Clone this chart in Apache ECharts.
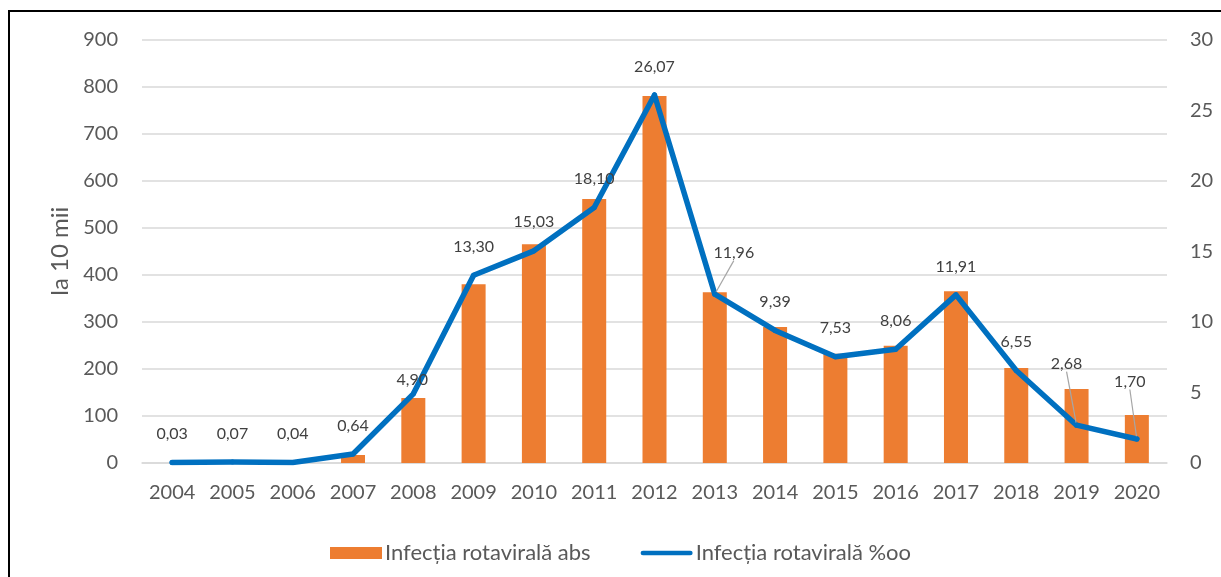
<!DOCTYPE html>
<html>
<head>
<meta charset="utf-8">
<script src="https://cdn.jsdelivr.net/npm/echarts@6/dist/echarts.min.js"></script>
<style>
  html, body { margin: 0; padding: 0; background: #fff; }
  #chart { width: 1221px; height: 577px; }
</style>
</head>
<body>
<div id="chart"></div>
<script>
// date
var years = ['2004', '2005', '2006', '2007', '2008', '2009', '2010', '2011', '2012',
  '2013', '2014', '2015', '2016', '2017', '2018', '2019', '2020'];
var absValues = [0, 0, 0, 17, 138, 380, 465, 561, 780, 363, 289, 232, 249, 365, 202, 157, 102];
var rateValues = [0.03, 0.07, 0.04, 0.64, 4.90, 13.30, 15.03, 18.10, 26.07, 11.96, 9.39, 7.53, 8.06, 11.91, 6.55, 2.68, 1.70];
var leftTicks = [0, 900, 100];
var rightTicks = [0, 30, 5];

// etichete mutate manual (ca in Excel)
var labelMoves = {
  4: { dx: -1, dy: 15 },
  9: { dx: 19, dy: -13 },
  15: { dx: -10, dy: -33 },
  16: { dx: -7, dy: -29 }
};
var withLeader = [9, 15, 16];

var font = 'Lato';
var myChart = echarts.init(document.getElementById('chart'));

var lineData = rateValues.map(function (v, i) {
  var item = { value: v };
  if (withLeader.indexOf(i) >= 0) {
    item.labelLine = { show: true, lineStyle: { color: '#a6a6a6', width: 1.2 } };
  }
  return item;
});

// linie groasa cu capete rotunde pentru legenda
var lineIcon = 'path://M2.5,0 L54.5,0 A2.5,2.5 0 0 1 54.5,5 L2.5,5 A2.5,2.5 0 0 1 2.5,0 Z';

var option = {
  backgroundColor: '#fff',
  animation: false,
  graphic: [{
    type: 'rect',
    shape: { x: 9, y: 11, width: 1400, height: 800 },
    style: { fill: 'none', stroke: '#000', lineWidth: 2 },
    silent: true
  }],
  grid: { left: 142, right: 54, top: 39.5, bottom: 114 },
  legend: {
    left: 325,
    top: 537,
    itemWidth: 52,
    itemHeight: 12,
    itemGap: 50,
    textStyle: { fontFamily: font, fontSize: 22, color: '#595959', padding: [0, 0, 0, -2] },
    data: [
      { name: 'Infecția rotavirală abs', icon: 'rect' },
      { name: 'Infecția rotavirală %oo', icon: lineIcon, itemStyle: { color: '#0070C0' } }
    ]
  },
  xAxis: {
    type: 'category',
    data: years,
    axisLine: { lineStyle: { color: '#d9d9d9', width: 1.5 } },
    axisTick: { show: false },
    axisLabel: { interval: 0, fontFamily: font, fontSize: 20, color: '#595959', margin: 20 }
  },
  yAxis: [{
    type: 'value',
    min: leftTicks[0],
    max: leftTicks[1],
    interval: leftTicks[2],
    name: 'la 10 mii',
    nameLocation: 'middle',
    nameGap: 70,
    nameTextStyle: { fontFamily: font, fontSize: 24, color: '#595959' },
    axisLine: { show: false },
    axisTick: { show: false },
    axisLabel: { fontFamily: font, fontSize: 20, color: '#595959', margin: 24 },
    splitLine: { lineStyle: { color: '#d9d9d9', width: 1.5 } }
  }, {
    type: 'value',
    min: rightTicks[0],
    max: rightTicks[1],
    interval: rightTicks[2],
    axisLine: { show: false },
    axisTick: { show: false },
    axisLabel: { fontFamily: font, fontSize: 20, color: '#595959', margin: 23 },
    splitLine: { show: false }
  }],
  series: [{
    name: 'Infecția rotavirală abs',
    type: 'bar',
    data: absValues,
    barWidth: 24,
    itemStyle: { color: '#ED7D31' }
  }, {
    name: 'Infecția rotavirală %oo',
    type: 'line',
    yAxisIndex: 1,
    data: lineData,
    symbol: 'circle',
    symbolSize: 5,
    showSymbol: true,
    itemStyle: { color: '#0070C0' },
    lineStyle: { color: '#0070C0', width: 5.5, cap: 'round', join: 'round' },
    label: {
      show: true,
      position: 'top',
      distance: 18,
      fontFamily: font,
      fontSize: 16,
      color: '#404040',
      formatter: function (p) {
        return p.value.toFixed(2).replace('.', ',');
      }
    },
    labelLayout: function (params) {
      var m = labelMoves[params.dataIndex];
      return m ? { dx: m.dx, dy: m.dy } : {};
    }
  }]
};

myChart.setOption(option);
</script>
</body>
</html>
